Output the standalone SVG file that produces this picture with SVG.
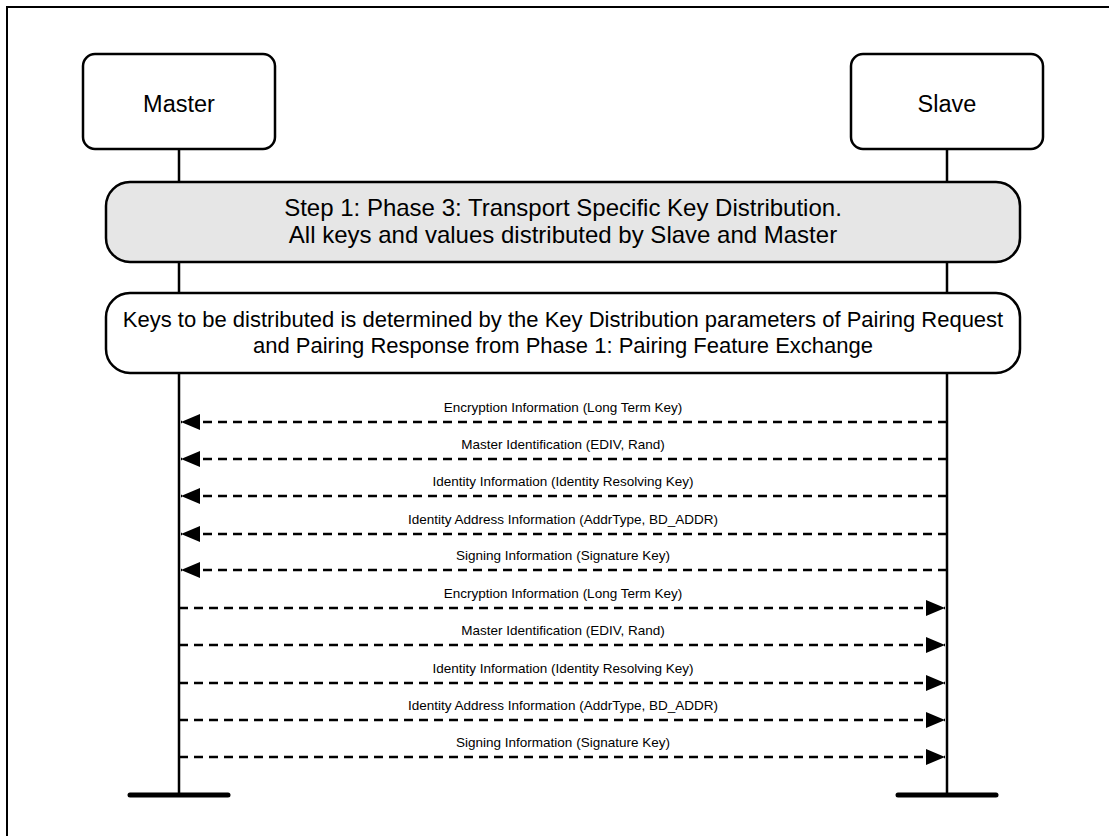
<svg xmlns="http://www.w3.org/2000/svg" width="1109" height="836" viewBox="0 0 1109 836">
<style>
.box{fill:#fff;stroke:#000;stroke-width:2.5}
.gray{fill:#e6e6e6;stroke:#000;stroke-width:2.5}
.life{stroke:#000;stroke-width:2.5;fill:none}
.bar{stroke:#000;stroke-width:5;stroke-linecap:round}
.msg{stroke:#000;stroke-width:2.5;stroke-dasharray:9 6;fill:none}
.t{font-family:"Liberation Sans",Arial,sans-serif;fill:#000;text-anchor:middle}
.big{font-size:23.5px}
.step{font-size:24px}
.mid{font-size:22px}
.sm{font-size:13.5px}
</style>
<defs>
<marker id="ah" markerUnits="userSpaceOnUse" markerWidth="20" markerHeight="18" refX="19" refY="8" orient="auto">
<path d="M0,0 L19,8 L0,16 Z" fill="#000"/>
</marker>
</defs>
<rect x="7" y="7" width="1120" height="850" fill="none" stroke="#000" stroke-width="2"/>
<g id="lifelines">
<line class="life" x1="179" y1="149" x2="179" y2="795"/>
<line class="life" x1="947" y1="149" x2="947" y2="795"/>
<line class="bar" x1="130" y1="795" x2="228" y2="795"/>
<line class="bar" x1="898" y1="795" x2="996" y2="795"/>
</g>
<g id="master">
<rect class="box" x="83" y="54" width="192" height="95" rx="12"/>
<text class="t big" x="179" y="112">Master</text>
</g>
<g id="slave">
<rect class="box" x="851" y="54" width="192" height="95" rx="12"/>
<text class="t big" x="947" y="112">Slave</text>
</g>
<g id="step1">
<rect class="gray" x="106" y="182" width="914" height="80" rx="24"/>
<text class="t step" x="563" y="216">Step 1: Phase 3: Transport Specific Key Distribution.</text>
<text class="t step" x="563" y="243">All keys and values distributed by Slave and Master</text>
</g>
<g id="note">
<rect class="box" x="106" y="293" width="914" height="80" rx="24"/>
<text class="t mid" x="563" y="327">Keys to be distributed is determined by the Key Distribution parameters of Pairing Request</text>
<text class="t mid" x="563" y="353">and Pairing Response from Phase 1: Pairing Feature Exchange</text>
</g>
<g id="connectors">
<line class="msg" x1="947" y1="422" x2="181" y2="422" marker-end="url(#ah)"/>
<line class="msg" x1="947" y1="459" x2="181" y2="459" marker-end="url(#ah)"/>
<line class="msg" x1="947" y1="496" x2="181" y2="496" marker-end="url(#ah)"/>
<line class="msg" x1="947" y1="534" x2="181" y2="534" marker-end="url(#ah)"/>
<line class="msg" x1="947" y1="570" x2="181" y2="570" marker-end="url(#ah)"/>
<line class="msg" x1="179" y1="608" x2="945" y2="608" marker-end="url(#ah)"/>
<line class="msg" x1="179" y1="645" x2="945" y2="645" marker-end="url(#ah)"/>
<line class="msg" x1="179" y1="683" x2="945" y2="683" marker-end="url(#ah)"/>
<line class="msg" x1="179" y1="720" x2="945" y2="720" marker-end="url(#ah)"/>
<line class="msg" x1="179" y1="757" x2="945" y2="757" marker-end="url(#ah)"/>
</g>
<g id="labels">
<text class="t sm" x="563" y="412">Encryption Information (Long Term Key)</text>
<text class="t sm" x="563" y="449">Master Identification (EDIV, Rand)</text>
<text class="t sm" x="563" y="486">Identity Information (Identity Resolving Key)</text>
<text class="t sm" x="563" y="524">Identity Address Information (AddrType, BD_ADDR)</text>
<text class="t sm" x="563" y="560">Signing Information (Signature Key)</text>
<text class="t sm" x="563" y="598">Encryption Information (Long Term Key)</text>
<text class="t sm" x="563" y="635">Master Identification (EDIV, Rand)</text>
<text class="t sm" x="563" y="673">Identity Information (Identity Resolving Key)</text>
<text class="t sm" x="563" y="710">Identity Address Information (AddrType, BD_ADDR)</text>
<text class="t sm" x="563" y="747">Signing Information (Signature Key)</text>
</g>
</svg>
